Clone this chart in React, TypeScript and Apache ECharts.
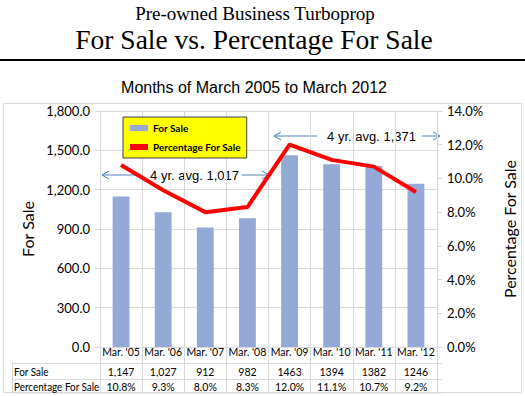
import React, { useEffect, useRef } from "react";
import * as echarts from "echarts";

const categories = ["Mar. '05", "Mar. '06", "Mar. '07", "Mar. '08", "Mar. '09", "Mar. '10", "Mar. '11", "Mar. '12"];
const forSale = [1147, 1027, 912, 982, 1463, 1394, 1382, 1246];
const forSaleText = ["1,147", "1,027", "912", "982", "1463", "1394", "1382", "1246"];
const pctForSale = [10.8, 9.3, 8.0, 8.3, 12.0, 11.1, 10.7, 9.2];
const avgLabels = ["4 yr. avg. 1,017", "4 yr. avg. 1,371"];
const titles = ["Pre-owned Business Turboprop", "For Sale vs. Percentage For Sale", "Months of March 2005 to March 2012"];

const GRID_L = 100;
const GRID_R = 442;
const GRID_T = 111;
const GRID_B = 347;
const GRAY = "#d9d9d9";
const ARROW = "#4f81bd";
const CAL = "Lato, 'Open Sans', sans-serif";
const ARIAL = "'Liberation Sans', Arial, sans-serif";
const SERIF = "'Liberation Serif', 'Times New Roman', serif";
const TFS = 10.5;

function arrow(x1: number, x2: number, y: number, dir: "left" | "right") {
  const tip = dir === "left" ? x1 : x2;
  const s = dir === "left" ? 1 : -1;
  return [
    { type: "line", shape: { x1, y1: y, x2, y2: y }, style: { stroke: ARROW, lineWidth: 1 } },
    {
      type: "polyline",
      shape: { points: [[tip + s * 7, y - 4], [tip, y], [tip + s * 7, y + 4]] },
      style: { stroke: ARROW, lineWidth: 1, fill: null },
    },
  ];
}

export default function App() {
  const ref = useRef<HTMLDivElement>(null);
  useEffect(() => {
    if (!ref.current) return;
    const chart = echarts.init(ref.current, null, { renderer: "svg" });
    const catW = (GRID_R - GRID_L) / categories.length;
    const tableLabel = { fontFamily: CAL, fontSize: TFS, color: "#000", margin: 5, verticalAlign: "middle", interval: 0 };
    chart.setOption({
      animation: false,
      backgroundColor: "#fff",
      legend: {
        left: 123,
        top: 117,
        orient: "vertical",
        backgroundColor: "#ffff00",
        borderColor: "#404040",
        borderWidth: 1,
        padding: [6, 6, 6, 7],
        itemGap: 9,
        itemWidth: 18,
        itemHeight: 6,
        textStyle: { fontFamily: CAL, fontSize: 10, fontWeight: "bold", color: "#000" },
        data: [
          { name: "For Sale", icon: "rect" },
          { name: "Percentage For Sale", icon: "rect" },
        ],
      },
      grid: { left: GRID_L, right: 525 - GRID_R, top: GRID_T, bottom: 396 - GRID_B },
      xAxis: [
        {
          type: "category",
          data: categories,
          position: "bottom",
          axisLine: { show: true, lineStyle: { color: GRAY } },
          axisTick: { show: true, length: 46, interval: 0, lineStyle: { color: GRAY } },
          splitLine: { show: true, interval: 0, lineStyle: { color: GRAY } },
          axisLabel: tableLabel,
        },
        {
          type: "category",
          data: forSaleText,
          position: "bottom",
          offset: 20,
          axisLine: { show: false },
          axisTick: { show: false },
          axisLabel: tableLabel,
        },
        {
          type: "category",
          data: pctForSale.map((v) => v.toFixed(1) + "%"),
          position: "bottom",
          offset: 35,
          axisLine: { show: false },
          axisTick: { show: false },
          axisLabel: tableLabel,
        },
      ],
      yAxis: [
        {
          type: "value",
          min: 0,
          max: 1800,
          interval: 300,
          name: "For Sale",
          nameLocation: "middle",
          nameRotate: 90,
          nameGap: 58,
          nameTextStyle: { fontFamily: CAL, fontSize: 16, color: "#000" },
          axisLine: { show: true, lineStyle: { color: GRAY } },
          axisTick: { show: true, length: 5, lineStyle: { color: GRAY } },
          splitLine: { show: true, lineStyle: { color: GRAY } },
          axisLabel: {
            fontFamily: CAL,
            fontSize: 13,
            color: "#000",
            margin: 10,
            formatter: (v: number) => v.toLocaleString("en-US", { minimumFractionDigits: 1, maximumFractionDigits: 1 }),
          },
        },
        {
          type: "value",
          min: 0,
          max: 14,
          interval: 2,
          position: "right",
          name: "Percentage For Sale",
          nameLocation: "middle",
          nameRotate: 90,
          nameGap: 64,
          nameTextStyle: { fontFamily: CAL, fontSize: 16, color: "#000" },
          axisLine: { show: true, lineStyle: { color: GRAY } },
          axisTick: { show: true, length: 5, lineStyle: { color: GRAY } },
          splitLine: { show: false },
          axisLabel: { fontFamily: CAL, fontSize: 13, color: "#000", margin: 10, formatter: (v: number) => v.toFixed(1) + "%" },
        },
      ],
      series: [
        {
          name: "For Sale",
          type: "bar",
          data: forSale,
          barWidth: "40%",
          itemStyle: { color: "#94a9d5" },
        },
        {
          name: "Percentage For Sale",
          type: "line",
          yAxisIndex: 1,
          data: pctForSale,
          symbol: "none",
          lineStyle: { color: "#ff0000", width: 4 },
          itemStyle: { color: "#ff0000" },
        },
      ],
      graphic: [
        { type: "text", x: 255, y: 13, style: { text: titles[0], font: `19px ${SERIF}`, fill: "#000", align: "center", verticalAlign: "middle" } },
        { type: "text", x: 254, y: 39, style: { text: titles[1], font: `27.5px ${SERIF}`, fill: "#000", align: "center", verticalAlign: "middle" } },
        { type: "text", x: 254, y: 87, style: { text: titles[2], font: `16px ${ARIAL}`, fill: "#000", align: "center", verticalAlign: "middle" } },
        { type: "line", shape: { x1: 0, y1: 60, x2: 525, y2: 60 }, style: { stroke: "#000", lineWidth: 2 } },
        { type: "rect", shape: { x: 3.5, y: 103.5, width: 518, height: 289 }, style: { stroke: GRAY, fill: null, lineWidth: 1 }, z: -1 },
        { type: "line", shape: { x1: 12, y1: 363.5, x2: GRID_R, y2: 363.5 }, style: { stroke: GRAY, lineWidth: 1 } },
        { type: "line", shape: { x1: 12, y1: 379.5, x2: GRID_R, y2: 379.5 }, style: { stroke: GRAY, lineWidth: 1 } },
        { type: "line", shape: { x1: 12, y1: 393, x2: GRID_R, y2: 393 }, style: { stroke: GRAY, lineWidth: 1 } },
        { type: "line", shape: { x1: 12.5, y1: 363, x2: 12.5, y2: 393 }, style: { stroke: GRAY, lineWidth: 1 } },
        { type: "text", x: 14, y: 372, scaleX: 0.9, style: { text: "For Sale", font: `11px ${CAL}`, fill: "#000", verticalAlign: "middle" } },
        { type: "text", x: 14, y: 387, scaleX: 0.9, style: { text: "Percentage For Sale", font: `11px ${CAL}`, fill: "#000", verticalAlign: "middle" } },
        ...arrow(GRID_L + 2, 135, 175, "left"),
        ...arrow(242, GRID_L + catW * 4 - 2, 175, "right"),
        { type: "text", x: 194.5, y: 175, style: { text: avgLabels[0], font: `13px ${ARIAL}`, fill: "#000", align: "center", verticalAlign: "middle" } },
        ...arrow(GRID_L + catW * 4 + 3, 317, 136, "left"),
        ...arrow(422, GRID_R - 2, 136, "right"),
        { type: "text", x: 371.5, y: 136, style: { text: avgLabels[1], font: `13px ${ARIAL}`, fill: "#000", align: "center", verticalAlign: "middle" } },
      ],
    });
    return () => chart.dispose();
  }, []);
  return <div ref={ref} style={{ position: "fixed", left: 0, top: 0, width: 525, height: 396 }} />;
}
